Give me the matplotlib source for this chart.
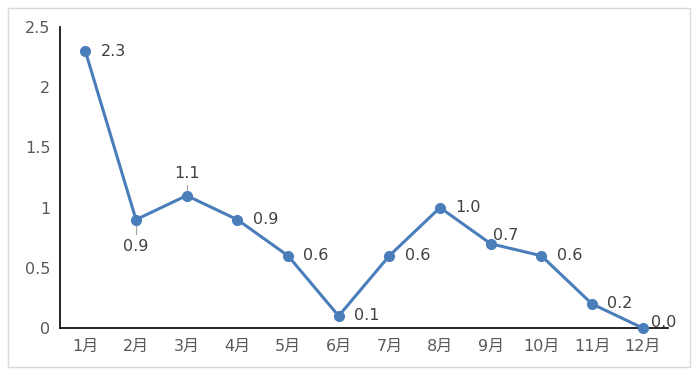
import matplotlib
matplotlib.use("Agg")
import matplotlib.pyplot as plt
from matplotlib.patches import Rectangle

plt.rcParams['font.family'] = ['DejaVu Sans', 'Noto Sans CJK SC']

months = ["1月", "2月", "3月", "4月", "5月", "6月", "7月", "8月", "9月", "10月", "11月", "12月"]
values = [2.3, 0.9, 1.1, 0.9, 0.6, 0.1, 0.6, 1.0, 0.7, 0.6, 0.2, 0.0]
labels = ["2.3", "0.9", "1.1", "0.9", "0.6", "0.1", "0.6", "1.0", "0.7", "0.6", "0.2", "0.0"]

line_color = "#4a7ebb"
text_color = "#404040"
tick_color = "#595959"
fs = 11.5

fig = plt.figure(figsize=(7, 3.78), dpi=100)
fig.patches.append(Rectangle((8 / 700, 11 / 378), 682 / 700, 359 / 378,
                             transform=fig.transFigure, fill=False,
                             edgecolor="#d9d9d9", linewidth=1))
ax = fig.add_axes([60 / 700, 50 / 378, 608 / 700, 301 / 378])

x = list(range(len(months)))
ax.plot(x, values, color=line_color, linewidth=2.2, marker="o", markersize=7,
        clip_on=False, zorder=3)

for i, (v, lab) in enumerate(zip(values, labels)):
    if i == 1:
        ax.plot([i, i], [v - 0.04, v - 0.12], color="#a6a6a6", linewidth=0.8)
        ax.annotate(lab, (i, v), xytext=(0, -19), textcoords="offset points",
                    ha="center", va="center", fontsize=fs, color=text_color)
    elif i == 2:
        ax.plot([i, i], [v + 0.05, v + 0.09], color="#a6a6a6", linewidth=0.8)
        ax.annotate(lab, (i, v), xytext=(0, 16), textcoords="offset points",
                    ha="center", va="center", fontsize=fs, color=text_color)
    elif i == 8:
        ax.annotate(lab, (i, v), xytext=(2, 6), textcoords="offset points",
                    ha="left", va="center", fontsize=fs, color=text_color)
    elif i == 11:
        ax.annotate(lab, (i, v), xytext=(6, 4), textcoords="offset points",
                    ha="left", va="center", fontsize=fs, color=text_color)
    else:
        ax.annotate(lab, (i, v), xytext=(11, 0), textcoords="offset points",
                    ha="left", va="center", fontsize=fs, color=text_color)

ax.set_xlim(-0.5, 11.5)
ax.set_ylim(0, 2.5)
ax.set_xticks(x)
ax.set_xticklabels(months)
ax.set_yticks([0, 0.5, 1, 1.5, 2, 2.5])
ax.set_yticklabels(["0", "0.5", "1", "1.5", "2", "2.5"])
ax.tick_params(axis="both", length=0, labelsize=fs, labelcolor=tick_color)
ax.tick_params(axis="x", pad=8)
ax.tick_params(axis="y", pad=7)

for s in ["top", "right"]:
    ax.spines[s].set_visible(False)
ax.spines["left"].set_color("#000000")
ax.spines["bottom"].set_color("#000000")
ax.spines["left"].set_linewidth(1.2)
ax.spines["bottom"].set_linewidth(1.2)

fig.savefig("out.png", dpi=100)
